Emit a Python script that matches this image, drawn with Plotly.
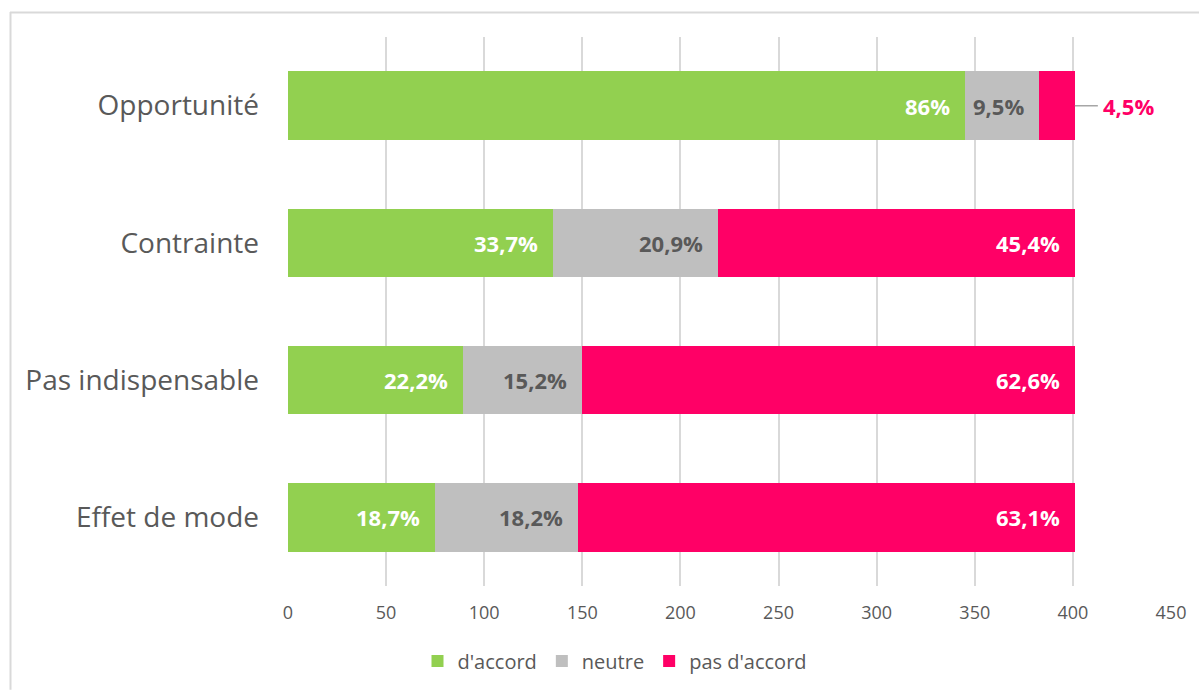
import plotly.graph_objects as go

# Survey answers, share of respondents (%)
categories = ["Opportunité", "Contrainte", "Pas indispensable", "Effet de mode"]
pct_agree = [86.0, 33.7, 22.2, 18.7]
pct_neutral = [9.5, 20.9, 15.2, 18.2]
pct_disagree = [4.5, 45.4, 62.6, 63.1]
respondents = 401
x_ticks = [0, 50, 100, 150, 200, 250, 300, 350, 400, 450]

FONT = "Open Sans"
GREY_TXT = "#595959"
GREEN = "#92D050"
GREY = "#BFBFBF"
PINK = "#FF0066"


def counts(pcts):
    return [p * respondents / 100 for p in pcts]


def fmt(p):
    s = f"{p:.1f}".replace(".", ",")
    return s[:-2] + "%" if s.endswith(",0") else s + "%"


# bars are drawn bottom-up, so reverse the order
cats_r = categories[::-1]

fig = go.Figure()
series = [
    ("d'accord", pct_agree, GREEN, "white"),
    ("neutre", pct_neutral, GREY, GREY_TXT),
    ("pas d'accord", pct_disagree, PINK, "white"),
]
for name, pcts, color, _ in series:
    fig.add_trace(go.Bar(
        name=name,
        y=cats_r,
        x=counts(pcts)[::-1],
        orientation="h",
        marker=dict(color=color, line=dict(width=0)),
        hovertext=[fmt(p) for p in pcts][::-1],
    ))

# value labels, right-aligned at the end of each segment
cum = [0.0] * len(categories)
for name, pcts, color, txtcol in series:
    vals = counts(pcts)
    for i, (cat, p, v) in enumerate(zip(categories, pcts, vals)):
        cum[i] += v
        if p < 5:
            # narrow segment: callout to the right of the bar
            fig.add_annotation(
                x=cum[i], y=cat, text=fmt(p), showarrow=True, arrowhead=0,
                arrowwidth=1.5, arrowcolor="#A6A6A6", ax=54, ay=0,
                standoff=0, borderpad=5, xanchor="center",
                font=dict(family=FONT, size=22, color=color, weight="bold"),
            )
        else:
            fig.add_annotation(
                x=cum[i], y=cat, text=fmt(p), showarrow=False,
                xanchor="right", xshift=-13,
                font=dict(family=FONT, size=22, color=txtcol, weight="bold"),
            )

# chart frame
L, T = 288, 37
PW, PH = 883, 550
fig.add_shape(type="line", xref="paper", yref="paper",
              x0=(10 - L) / PW, x1=(1199 - L) / PW,
              y0=1 + (T - 12.5) / PH, y1=1 + (T - 12.5) / PH,
              line=dict(color="#D9D9D9", width=2))
fig.add_shape(type="line", xref="paper", yref="paper",
              x0=(10.5 - L) / PW, x1=(10.5 - L) / PW,
              y0=1 + (T - 12) / PH, y1=-(691 - T - PH) / PH,
              line=dict(color="#D9D9D9", width=2))

fig.update_layout(
    width=1199, height=691,
    margin=dict(l=L, r=1199 - L - PW, t=T, b=691 - T - PH),
    barmode="stack", bargap=0.5,
    plot_bgcolor="white", paper_bgcolor="white",
    font=dict(family=FONT, color=GREY_TXT),
    showlegend=True,
    legend=dict(orientation="h", x=(615 - L) / PW, xanchor="center",
                y=-74 / PH, yanchor="middle",
                font=dict(family=FONT, size=20, color=GREY_TXT),
                traceorder="normal", itemwidth=30),
    xaxis=dict(range=[0, 450], tickvals=x_ticks, showgrid=True,
               gridcolor="#D9D9D9", gridwidth=1.5, zeroline=False,
               showline=False, ticks="", ticklabelstandoff=14,
               tickfont=dict(family=FONT, size=18, color=GREY_TXT)),
    yaxis=dict(showgrid=False, showline=False, ticks="", ticklabelstandoff=28,
               tickfont=dict(family=FONT, size=28, color=GREY_TXT)),
)

fig.write_html("out.html")
